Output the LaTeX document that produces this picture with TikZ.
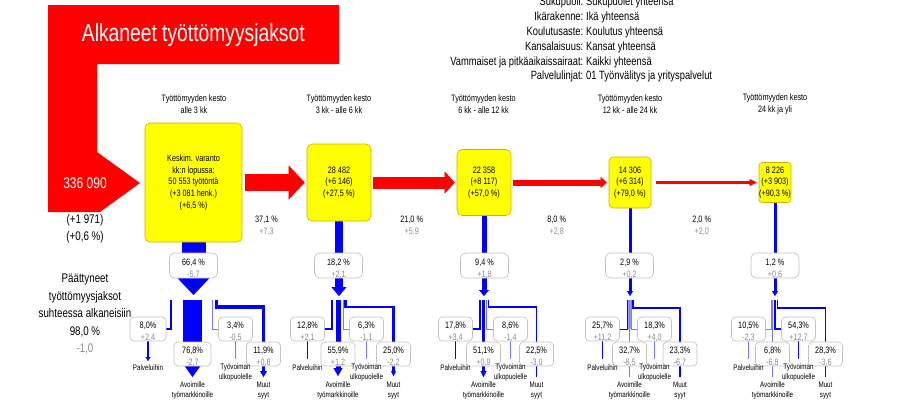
\documentclass[tikz,border=0pt]{standalone}
\usepackage{fontspec}
\setmainfont[FakeStretch=0.78]{Liberation Sans}
\usetikzlibrary{arrows.meta,backgrounds}
\definecolor{fred}{RGB}{255,0,0}
\definecolor{fblue}{RGB}{0,0,255}
\definecolor{flight}{RGB}{120,120,255}
\definecolor{fyel}{RGB}{255,255,0}
\definecolor{fyedge}{RGB}{200,180,0}
\definecolor{fgray}{RGB}{140,140,140}
\definecolor{fbox}{RGB}{195,195,195}
\newcommand\setfs[2]{\fontsize{#1}{#2}\selectfont}
% box with two-line text (value, gray change)
\newcommand\flbox[6]{%
  \node[#1] (#2) at (#3) {};
  \node[boxtxt, yshift=#6] (#2t) at (#3) {#4\\\textcolor{fgray}{#5}};}
\begin{document}
\begin{tikzpicture}[x=1pt,y=-1pt,
  ybox/.style={draw=fyedge, fill=fyel, line width=0.6pt, rounded corners=5pt, inner sep=0pt, align=center, font={\setfs{9.3}{11.7}}},
  wbox/.style={draw=fbox, fill=white, line width=0.7pt, rounded corners=5pt, inner sep=0pt, minimum width=48pt, minimum height=25pt},
  sbox/.style={draw=fbox, fill=white, line width=0.7pt, rounded corners=4pt, inner sep=0pt, minimum width=34pt, minimum height=24pt},
  boxtxt/.style={font={\setfs{9.3}{11.8}}, align=center, inner sep=0pt},
  lbl/.style={font={\setfs{8}{9.5}}, align=center, inner sep=0pt},
  hdr/.style={font={\setfs{12}{14}}, inner sep=0pt},
  colh/.style={font={\setfs{9.3}{11.5}}, align=center, inner sep=0pt},
  pct/.style={font={\setfs{9.3}{12}}, align=center, inner sep=0pt},
  tipb/.style 2 args={-{Triangle[width=#1pt,length=#2pt,line width=0.2pt]}}
]
\useasboundingbox (0,0) rectangle (908,405);

% title shape
\fill[fred] (48,5) -- (339,5) -- (339,64) -- (97,64) -- (97,152) -- (140,183) -- (100,212) -- (48,212) -- cycle;
\node[font={\setfs{24.7}{28}}, text=white, anchor=base, inner sep=0pt] (ttl) at (193.3,41.7) {Alkaneet työttömyysjaksot};
\node[font={\setfs{15.4}{18}}, text=white, anchor=base, inner sep=0pt] (tot) at (85,188.3) {336 090};
\node[font={\setfs{12.5}{17}}, align=center, inner sep=0pt] (totc) at (85,228.5) {(+1 971)\\(+0,6 \%)};
\node[font={\setfs{12.5}{17.5}}, align=center, inner sep=0pt] (endd) at (85,314) {Päättyneet\\työttömyysjaksot\\suhteessa alkaneisiin\\98,0 \%\\\textcolor{fgray}{-1,0}};

% header
\node[hdr, anchor=base east] (hk1) at (583.5,5.8) {Sukupuoli:};
\node[hdr, anchor=base west] (hv1) at (586,5.8) {Sukupuolet yhteensä};
\node[hdr, anchor=base east] (hk2) at (583.5,20.6) {Ikärakenne:};
\node[hdr, anchor=base west] (hv2) at (586,20.6) {Ikä yhteensä};
\node[hdr, anchor=base east] (hk3) at (583.5,35.4) {Koulutusaste:};
\node[hdr, anchor=base west] (hv3) at (586,35.4) {Koulutus yhteensä};
\node[hdr, anchor=base east] (hk4) at (583.5,50.2) {Kansalaisuus:};
\node[hdr, anchor=base west] (hv4) at (586,50.2) {Kansat yhteensä};
\node[hdr, anchor=base east] (hk5) at (583.5,65.0) {Vammaiset ja pitkäaikaissairaat:};
\node[hdr, anchor=base west] (hv5) at (586,65.0) {Kaikki yhteensä};
\node[hdr, anchor=base east] (hk6) at (583.5,79.8) {Palvelulinjat:};
\node[hdr, anchor=base west] (hv6) at (586,79.8) {01 Työnvälitys ja yrityspalvelut};

% column headings
\node[colh] (ch1) at (194,104) {Työttömyyden kesto\\alle 3 kk};
\node[colh] (ch2) at (339,104) {Työttömyyden kesto\\3 kk - alle 6 kk};
\node[colh] (ch3) at (483.5,104) {Työttömyyden kesto\\6 kk - alle 12 kk};
\node[colh] (ch4) at (630,104) {Työttömyyden kesto\\12 kk - alle 24 kk};
\node[colh] (ch5) at (775,104) {Työttömyyden kesto\\24 kk ja yli};

% yellow boxes
\node[ybox, minimum width=97pt, minimum height=119pt] (b1) at (193.5,182.5) {Keskim. varanto\\kk:n lopussa:\\50 553 työtöntä\\(+3 081 henk.)\\(+6,5 \%)};
\node[ybox, minimum width=64pt, minimum height=77pt] (b2) at (339,182.5) {28 482\\(+6 146)\\(+27,5 \%)};
\node[ybox, minimum width=54pt, minimum height=66pt] (b3) at (484,182.5) {22 358\\(+8 117)\\(+57,0 \%)};
\node[ybox, minimum width=42pt, minimum height=51pt, rounded corners=4pt] (b4) at (630,182.5) {14 306\\(+6 314)\\(+79,0 \%)};
\node[ybox, minimum width=32pt, minimum height=40pt, rounded corners=3pt] (b5) at (775,182.5) {8 226\\(+3 903)\\(+90,3 \%)};

% red arrows
\draw[fred, line width=17pt, tipb={34}{16}, shorten <=3pt, shorten >=2pt] (b1) -- (b2);
\draw[fred, line width=12pt, tipb={22}{10}, shorten <=2pt, shorten >=2pt] (b2) -- (b3);
\draw[fred, line width=6pt, tipb={11}{6}, shorten <=2pt, shorten >=2pt] (b3) -- (b4);
\draw[fred, line width=2.5pt, tipb={7}{7}, shorten <=5pt, shorten >=2pt] (b4) -- (b5);

% percentages between
\node[pct] (p12) at (266.5,226) {37,1 \%\\\textcolor{fgray}{+7,3}};
\node[pct] (p23) at (411.7,226) {21,0 \%\\\textcolor{fgray}{+5,9}};
\node[pct] (p34) at (556.7,226) {8,0 \%\\\textcolor{fgray}{+2,8}};
\node[pct] (p45) at (701.7,226) {2,0 \%\\\textcolor{fgray}{+2,0}};

% middle boxes
\flbox{wbox}{m1}{193.5,265.5}{66,4 \%}{-5,7}{-3.5pt}
\flbox{wbox}{m2}{338.5,265.5}{18,2 \%}{+2,1}{-3.5pt}
\flbox{wbox}{m3}{484.5,265.5}{9,4 \%}{+1,8}{-3.5pt}
\flbox{wbox}{m4}{629.5,265.5}{2,9 \%}{+0,2}{-3.5pt}
\flbox{wbox}{m5}{775,265.5}{1,2 \%}{+0,6}{-3.5pt}

\coordinate (f1) at (193.5,295);
\coordinate (f2) at (339,296);
\coordinate (f3) at (484,296);
\coordinate (f4) at (630,296);
\coordinate (f5) at (775,296);

% ---------- column 1 bottom
\flbox{sbox, minimum width=36pt}{pb1}{148,329}{8,0\%}{+2,4}{-2.5pt}
\flbox{sbox, minimum width=37pt}{ab1}{192.5,354}{76,8\%}{-2,7}{-2.5pt}
\flbox{sbox}{tb1}{235.5,329}{3,4\%}{-0,5}{-2.5pt}
\flbox{sbox}{mb1}{263.5,354}{11,9\%}{+0,8}{-2.5pt}
\node[lbl] (lp1) at (148,368) {Palveluihin};
\node[lbl] (lt1) at (235.5,372.5) {Työvoiman\\ulkopuolelle};
\node[lbl] (la1) at (192.5,390.5) {Avoimille\\työmarkkinoille};
\node[lbl] (lm1) at (263.5,390.5) {Muut\\syyt};
\coordinate (sp1) at (171,300); \coordinate (sa1) at (192.5,300);
\coordinate (st1) at (212.5,300); \coordinate (sm1) at (216.5,300);
\coordinate (ep1) at (148,361); \coordinate (ea1) at (192.5,377);
\coordinate (et1) at (235.5,359); \coordinate (em1) at (263.5,377);

% ---------- column 2 bottom
\flbox{sbox}{pb2}{307.5,329}{12,8\%}{+2,1}{-2.5pt}
\flbox{sbox}{ab2}{338,354}{55,9\%}{+1,2}{-2.5pt}
\flbox{sbox}{tb2}{366.5,329}{6,3\%}{-1,1}{-2.5pt}
\flbox{sbox}{mb2}{393.5,354}{25,0\%}{-2,2}{-2.5pt}
\node[lbl] (lp2) at (307.5,368) {Palveluihin};
\node[lbl] (lt2) at (366.5,372.5) {Työvoiman\\ulkopuolelle};
\node[lbl] (la2) at (338,390.5) {Avoimille\\työmarkkinoille};
\node[lbl] (lm2) at (393.5,390.5) {Muut\\syyt};
\coordinate (sp2) at (332,300); \coordinate (sa2) at (338,300);
\coordinate (st2) at (343,300); \coordinate (sm2) at (345.5,300);
\coordinate (ep2) at (307.5,359); \coordinate (ea2) at (338,376);
\coordinate (et2) at (366.5,359); \coordinate (em2) at (393.5,376);

% ---------- column 3 bottom
\flbox{sbox}{pb3}{455.5,329}{17,8\%}{+3,4}{-2.5pt}
\flbox{sbox}{ab3}{483.5,354}{51,1\%}{+0,9}{-2.5pt}
\flbox{sbox}{tb3}{510.5,329}{8,6\%}{-1,4}{-2.5pt}
\flbox{sbox}{mb3}{536.5,354}{22,5\%}{-3,0}{-2.5pt}
\node[lbl] (lp3) at (455.5,368) {Palveluihin};
\node[lbl] (lt3) at (510.5,372.5) {Työvoiman\\ulkopuolelle};
\node[lbl] (la3) at (483.5,390.5) {Avoimille\\työmarkkinoille};
\node[lbl] (lm3) at (536.5,390.5) {Muut\\syyt};
\coordinate (sp3) at (480,300); \coordinate (sa3) at (483.5,300);
\coordinate (st3) at (486.5,300); \coordinate (sm3) at (488.5,300);
\coordinate (ep3) at (455.5,359); \coordinate (ea3) at (483.5,377);
\coordinate (et3) at (510.5,359); \coordinate (em3) at (536.5,377);

% ---------- column 4 bottom
\flbox{sbox}{pb4}{602.5,329}{25,7\%}{+11,2}{-2.5pt}
\flbox{sbox}{ab4}{629.5,354}{32,7\%}{-8,5}{-2.5pt}
\flbox{sbox}{tb4}{654.5,329}{18,3\%}{+4,0}{-2.5pt}
\flbox{sbox}{mb4}{680,354}{23,3\%}{-6,7}{-2.5pt}
\node[lbl] (lp4) at (602.5,368) {Palveluihin};
\node[lbl] (lt4) at (654.5,372.5) {Työvoiman\\ulkopuolelle};
\node[lbl] (la4) at (629.5,390.5) {Avoimille\\työmarkkinoille};
\node[lbl] (lm4) at (680,390.5) {Muut\\syyt};
\coordinate (sp4) at (627.5,300); \coordinate (sa4) at (629.5,300);
\coordinate (st4) at (631.5,300); \coordinate (sm4) at (633,300);
\coordinate (ep4) at (602.5,359); \coordinate (ea4) at (629.5,377);
\coordinate (et4) at (654.5,359); \coordinate (em4) at (680,377);

% ---------- column 5 bottom
\flbox{sbox}{pb5}{748.5,329}{10,5\%}{-2,3}{-2.5pt}
\flbox{sbox}{ab5}{772.5,354}{6,8\%}{-6,8}{-2.5pt}
\flbox{sbox}{tb5}{798.5,329}{54,3\%}{+12,7}{-2.5pt}
\flbox{sbox}{mb5}{825.5,354}{28,3\%}{-3,6}{-2.5pt}
\node[lbl] (lp5) at (748.5,368) {Palveluihin};
\node[lbl] (lt5) at (798.5,372.5) {Työvoiman\\ulkopuolelle};
\node[lbl] (la5) at (772.5,390.5) {Avoimille\\työmarkkinoille};
\node[lbl] (lm5) at (825.5,390.5) {Muut\\syyt};
\coordinate (sp5) at (771,300); \coordinate (sa5) at (772.5,300);
\coordinate (st5) at (775,300); \coordinate (sm5) at (777.5,300);
\coordinate (ep5) at (748.5,359); \coordinate (ea5) at (772.5,377);
\coordinate (et5) at (798.5,359); \coordinate (em5) at (825.5,377);

\begin{pgfonlayer}{background}
  % main outflows
  \draw[fblue, line width=24pt, tipb={32}{17}] (b1.south) -- (f1);
  \draw[fblue, line width=8pt, tipb={15}{9}] (b2.south) -- (f2);
  \draw[fblue, line width=5pt, tipb={10}{6}] (b3.south) -- (f3);
  \draw[fblue, line width=3pt, tipb={6}{5}] (b4.south) -- (f4);
  \draw[fblue, line width=3pt, tipb={6}{5}] (b5.south) -- (f5);
  % column 1
  \draw[fblue, line width=2pt, tipb={5}{4}] (sp1) |- (pb1.center) -- (ep1);
  \draw[fblue, line width=19pt, tipb={20}{14}] (sa1) -- (ea1);
  \draw[flight, line width=1pt] (st1) |- (tb1.center) -- (et1);
  \draw[fblue, line width=3.5pt, tipb={7}{6}] (sm1) -- ++(0,7) -| (em1);
  % column 2
  \draw[fblue, line width=1.3pt] (sp2) |- (pb2.center) -- (ep2);
  \draw[fblue, line width=5pt, tipb={9}{8}] (sa2) -- (ea2);
  \draw[flight, line width=1pt] (st2) |- (tb2.center) -- (et2);
  \draw[fblue, line width=2.2pt, tipb={5}{5}] (sm2) -- ++(0,7) -| (em2);
  % column 3
  \draw[fblue, line width=1.2pt] (sp3) |- (pb3.center) -- (ep3);
  \draw[fblue, line width=2.8pt, tipb={6}{6}] (sa3) -- (ea3);
  \draw[flight, line width=1pt] (st3) |- (tb3.center) -- (et3);
  \draw[fblue, line width=1.4pt] (sm3) -- ++(0,7) -| (em3);
  % column 4
  \fill[flight!75!white] (627,300) rectangle (632,329);
  \draw[fblue, line width=1pt] (sp4) |- (pb4.center) -- (ep4);
  \draw[flight, line width=1.3pt] (sa4) -- (ea4);
  \draw[flight, line width=1pt] (st4) |- (tb4.center) -- (et4);
  \draw[fblue, line width=1.1pt] (sm4) -- ++(0,8) -| (em4);
  % column 5
  \draw[flight, line width=0.9pt] (sp5) |- (pb5.center) -- (ep5);
  \draw[flight, line width=0.9pt] (sa5) -- (ea5);
  \draw[fblue, line width=1.8pt] (st5) |- (tb5.center) -- (et5);
  \draw[fblue, line width=1.2pt] (sm5) -- ++(0,8) -| (em5);
\end{pgfonlayer}
\end{tikzpicture}
\end{document}
